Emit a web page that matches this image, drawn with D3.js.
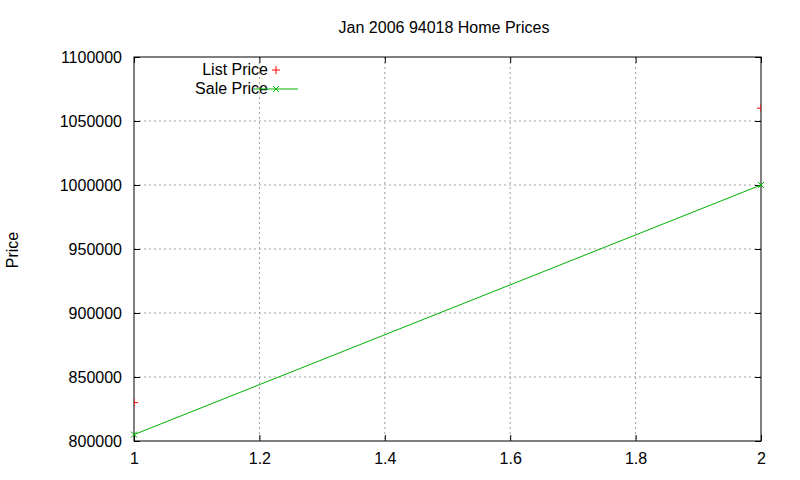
<!DOCTYPE html>
<html><head><meta charset="utf-8">
<script src="https://cdn.jsdelivr.net/npm/d3@7"></script>
<style>body{margin:0;background:#fff}text{font-family:"Liberation Sans",Arial,sans-serif;font-size:16px;fill:#000}</style>
</head><body><svg width="800" height="480"></svg>
<script>
var xValues = [1, 2]
var listPrice = [830000, 1060000]
var salePrice = [805000, 1000000]
var xTicks = [1, 1.2, 1.4, 1.6, 1.8, 2]
var yTicks = [800000, 850000, 900000, 950000, 1000000, 1050000, 1100000]

var svg = d3.select("svg")
var L = 134, R = 761, T = 57, B = 441
var x = d3.scaleLinear().domain([1, 2]).range([L, R])
var y = d3.scaleLinear().domain([800000, 1100000]).range([B, T])

// grid
svg.append("g").selectAll("line").data(xTicks.slice(1, -1)).enter().append("line")
  .attr("x1", d => x(d)).attr("x2", d => x(d)).attr("y1", T).attr("y2", B)
  .attr("stroke", "#a0a0a0").attr("stroke-dasharray", "2,3")
svg.append("g").selectAll("line").data(yTicks.slice(1, -1)).enter().append("line")
  .attr("y1", d => y(d)).attr("y2", d => y(d)).attr("x1", L).attr("x2", R)
  .attr("stroke", "#a0a0a0").attr("stroke-dasharray", "2,3")

// axes with inward ticks, mirrored
var fmt = d3.format("d")
svg.append("g").attr("transform", `translate(0,${B})`)
  .call(d3.axisBottom(x).tickValues(xTicks).tickSize(-6).tickPadding(12).tickFormat(d3.format("")).tickSizeOuter(0))
svg.append("g").attr("transform", `translate(0,${T})`)
  .call(d3.axisTop(x).tickValues(xTicks).tickSize(-6).tickFormat("").tickSizeOuter(0))
svg.append("g").attr("transform", `translate(${L},0)`)
  .call(d3.axisLeft(y).tickValues(yTicks).tickSize(-6).tickPadding(12).tickFormat(fmt).tickSizeOuter(0))
svg.append("g").attr("transform", `translate(${R},0)`)
  .call(d3.axisRight(y).tickValues(yTicks).tickSize(-6).tickFormat("").tickSizeOuter(0))
svg.selectAll(".domain").remove()
svg.selectAll(".tick text").style("font-size", "16px").attr("fill", "#000")
svg.selectAll(".tick line").attr("stroke", "#000")
svg.append("rect").attr("x", L).attr("y", T).attr("width", R - L).attr("height", B - T)
  .attr("fill", "none").attr("stroke", "#000")

// clip
svg.append("clipPath").attr("id", "c").append("rect").attr("x", L).attr("y", T).attr("width", R - L).attr("height", B - T)
var plot = svg.append("g").attr("clip-path", "url(#c)")

var pts = d => xValues.map((v, i) => [v, d[i]])
plot.selectAll(".lp").data(pts(listPrice)).enter().append("path")
  .attr("d", d => `M${x(d[0]) - 4},${y(d[1])}h8M${x(d[0])},${y(d[1]) - 4}v8`).attr("stroke", "red")
plot.append("path").datum(pts(salePrice))
  .attr("d", d3.line().x(d => x(d[0])).y(d => y(d[1]))).attr("stroke", "#00b000").attr("fill", "none")
svg.selectAll(".sp").data(pts(salePrice)).enter().append("path")
  .attr("d", d => `M${x(d[0]) - 3},${y(d[1]) - 3}l6,6M${x(d[0]) - 3},${y(d[1]) + 3}l6,-6`).attr("stroke", "#00b000")

// legend
svg.append("text").attr("x", 268).attr("y", 75).attr("text-anchor", "end").text("List Price")
svg.append("path").attr("d", "M272,70h8M276,66v8").attr("stroke", "red")
svg.append("text").attr("x", 268).attr("y", 94).attr("text-anchor", "end").text("Sale Price")
svg.append("line").attr("x1", 254).attr("x2", 298).attr("y1", 89).attr("y2", 89).attr("stroke", "#00b000")
svg.append("path").attr("d", "M273,86l6,6M273,92l6,-6").attr("stroke", "#00b000")

// titles
svg.append("text").attr("x", 444).attr("y", 33).attr("text-anchor", "middle").text("Jan 2006 94018 Home Prices")
svg.append("text").attr("transform", "translate(18,250) rotate(-90)").attr("text-anchor", "middle").text("Price")
</script></body></html>
